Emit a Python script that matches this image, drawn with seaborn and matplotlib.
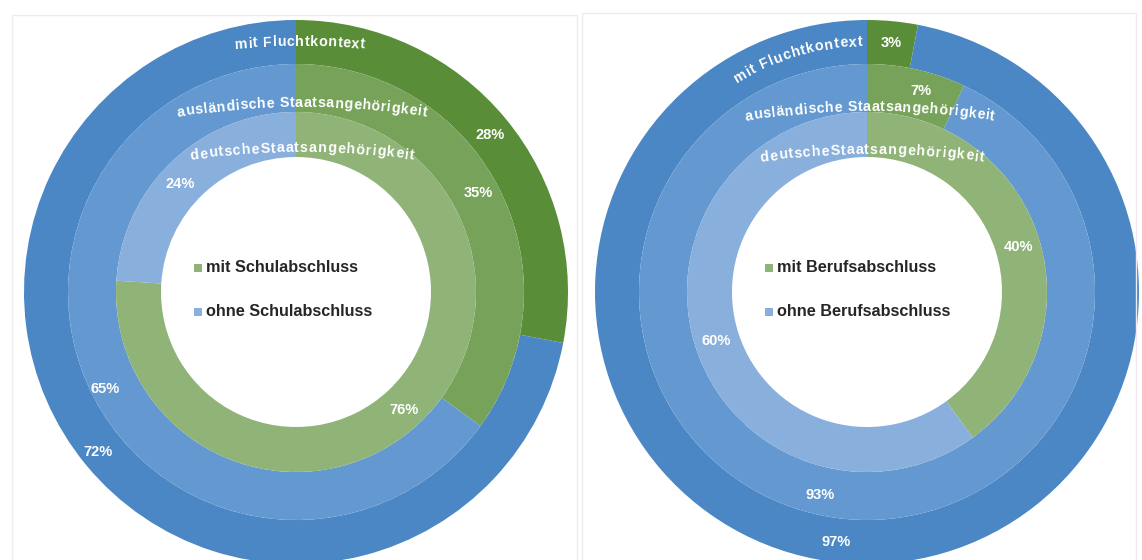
import numpy as np
import matplotlib
matplotlib.use("Agg")
import matplotlib.pyplot as plt
from matplotlib.patches import Rectangle
import seaborn as sns

# data (outer ring -> inner ring)
ring_names = ["mit Fluchtkontext", "ausländische Staatsangehörigkeit", "deutscheStaatsangehörigkeit"]
schul_mit = [28, 35, 76]
schul_ohne = [72, 65, 24]
beruf_mit = [3, 7, 40]
beruf_ohne = [97, 93, 60]
legend_schul = ["mit Schulabschluss", "ohne Schulabschluss"]
legend_beruf = ["mit Berufsabschluss", "ohne Berufsabschluss"]

# colours per ring (outer, middle, inner)
greens = ["#598d38", "#76a359", "#90b377"]
blues = ["#4a87c4", "#6399d0", "#89afdc"]

sns.set_theme(style="white")
plt.rcParams["font.family"] = ["Liberation Sans", "DejaVu Sans"]

W, H = 1142, 560
fig = plt.figure(figsize=(W / 100, H / 100), dpi=100)
ax = fig.add_axes([0, 0, 1, 1])
renderer = fig.canvas.get_renderer()

# ring geometry in pixels
radii = [272, 228, 180]
widths = [44, 48, 45]
cy = H - 292
centers = [296, 867]


def text_width(t, size):
    tt = ax.text(0, 0, t + "|", fontsize=size, fontweight="bold")
    w = tt.get_window_extent(renderer).width
    tt.remove()
    return w


def arc_text(s, acx, acy, R, a0, width, size=10.3):
    # put the characters of s one by one on a circle (centre acx/acy, radius R)
    bar = text_width("", size)
    starts = [text_width(s[:i], size) - bar for i in range(len(s) + 1)]
    extra = (width - starts[-1]) / (len(s) - 1)
    rb = R - 4  # baseline a bit below the middle line
    for i, ch in enumerate(s):
        p = (starts[i] + starts[i + 1]) / 2 + i * extra - width / 2
        th = np.radians(a0) - p / R
        ax.text(acx + rb * np.cos(th), acy + rb * np.sin(th), ch, color="white",
                fontsize=size, fontweight="bold", ha="center", va="baseline",
                rotation=np.degrees(th) - 90, rotation_mode="anchor")


def draw_panel(cx, mit, ohne, legend_labels, pct_pos, name_pos):
    for k in range(3):
        ax.pie([mit[k], ohne[k]], radius=radii[k], center=(cx, cy), startangle=90,
               counterclock=False, colors=[greens[k], blues[k]],
               wedgeprops=dict(width=widths[k], linewidth=0))
    # percentage labels
    vals = [v for k in range(3) for v in (mit[k], ohne[k])]
    for v, (ang, r) in zip(vals, pct_pos):
        a = np.radians(ang)
        ax.text(cx + r * np.cos(a), cy + r * np.sin(a), f"{v}%", color="white",
                fontsize=10.5, fontweight="bold", ha="center", va="center")
    # ring names
    for name, (kind, xc, r, a0, width) in zip(ring_names, name_pos):
        if kind == "ring":
            arc_text(name, cx, cy, r, a0, width)
        else:
            curv = 800
            arc_text(name, cx + xc, cy + r - curv, curv, 90, width)
    # legend in the middle
    for j, (lab, col) in enumerate(zip(legend_labels, [greens[2], blues[2]])):
        y = H - 268 - 44 * j
        ax.scatter(cx - 98, y, marker="s", s=30, color=col, linewidths=0)
        ax.text(cx - 90, y, lab, fontsize=11.7, fontweight="bold", color="#262626",
                ha="left", va="center")


# (angle, radius) of percent labels: outer mit/ohne, middle mit/ohne, inner mit/ohne
left_pct = [(39, 250), (219, 255), (28.5, 207), (207, 214), (-47.5, 160), (137, 159)]
right_pct = [(84.5, 250), (-97, 252), (75, 208), (-103, 208), (16.6, 158), (198, 159)]

left_names = [("flat", 4, 250, 90, 130), ("flat", 6, 189, 90, 251), ("flat", 6, 144, 90, 225)]
right_names = [("ring", 0, 250, 106.5, 134), ("flat", 3, 185, 90, 250), ("flat", 5, 142, 90, 225)]

draw_panel(centers[0], schul_mit, schul_ohne, legend_schul, left_pct, left_names)
draw_panel(centers[1], beruf_mit, beruf_ohne, legend_beruf, right_pct, right_names)

# faint panel frames
ax.add_patch(Rectangle((12, -5), 565, H - 15 + 5, fill=False, edgecolor="#ececec", lw=1))
ax.add_patch(Rectangle((582, -5), 554, H - 13 + 5, fill=False, edgecolor="#ececec", lw=1))

ax.set_xlim(0, W)
ax.set_ylim(0, H)
ax.set_aspect("equal")
ax.axis("off")

fig.savefig("out.png", dpi=100, facecolor="white")
